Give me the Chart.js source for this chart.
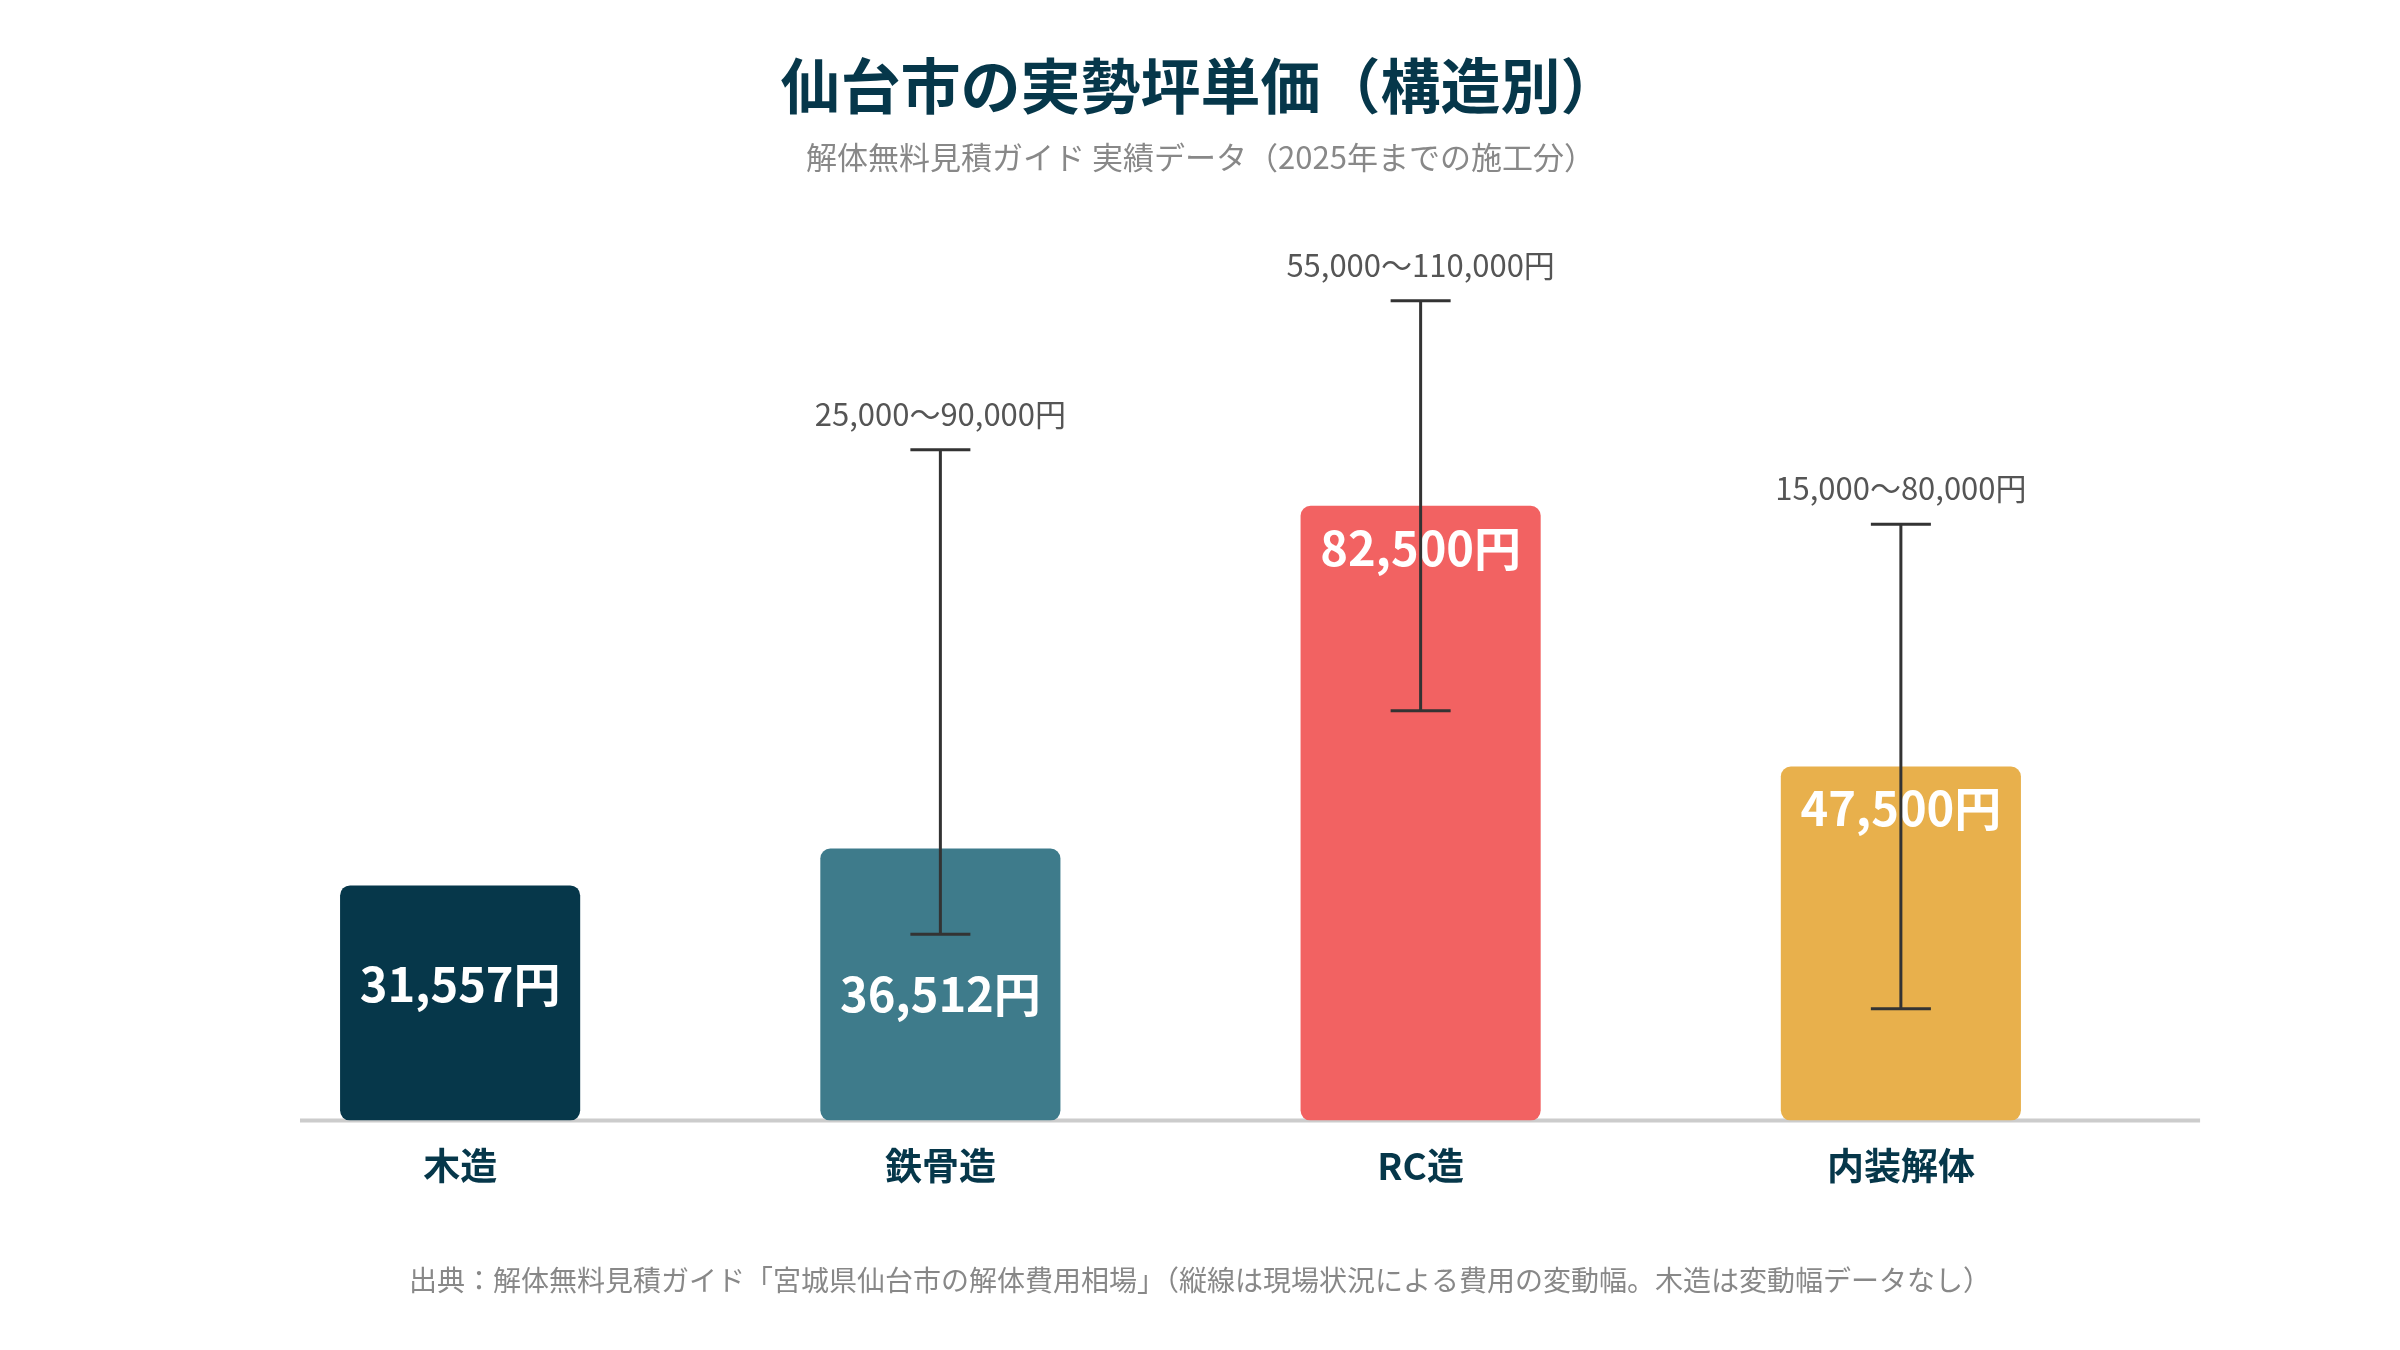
<!DOCTYPE html>
<html lang="ja">
<head>
<meta charset="utf-8">
<title>仙台市の実勢坪単価（構造別）</title>
<script src="https://cdn.jsdelivr.net/npm/chart.js@4.4.1/dist/chart.umd.min.js"></script>
<style>
  html, body { margin: 0; padding: 0; background: #ffffff; }
  #wrap { position: relative; width: 2400px; height: 1350px; }
</style>
</head>
<body>
<div id="wrap"><canvas id="chart"></canvas></div>
<script>
// データ
const categories = ['木造', '鉄骨造', 'RC造', '内装解体'];
const unitPrices = [31557, 36512, 82500, 47500];
const rangeLow = [null, 25000, 55000, 15000];
const rangeHigh = [null, 90000, 110000, 80000];
const barColors = ['#06374a', '#3e7b8b', '#f26262', '#e8b04c'];

const titleText = '仙台市の実勢坪単価（構造別）';
const subtitleText = '解体無料見積ガイド 実績データ（2025年までの施工分）';
const footerText = '出典：解体無料見積ガイド「宮城県仙台市の解体費用相場」（縦線は現場状況による費用の変動幅。木造は変動幅データなし）';

const FONT = '"Noto Sans CJK JP", "Noto Sans", sans-serif';
const yen = v => v.toLocaleString('ja-JP') + '円';

// ベースライン
const baselinePlugin = {
  id: 'baseline',
  beforeDatasetsDraw(chart) {
    const { ctx, width } = chart;
    const y = chart.scales.y.getPixelForValue(0);
    ctx.save();
    ctx.strokeStyle = '#cccccc';
    ctx.lineWidth = 4;
    ctx.beginPath();
    ctx.moveTo(width * 0.125, y);
    ctx.lineTo(width * 0.9167, y);
    ctx.stroke();
    ctx.restore();
  }
};

// 変動幅（縦線）とラベル
const rangePlugin = {
  id: 'ranges',
  afterDatasetsDraw(chart) {
    const { ctx } = chart;
    const yScale = chart.scales.y;
    const meta = chart.getDatasetMeta(0);
    ctx.save();
    meta.data.forEach((bar, i) => {
      const base = bar.base;
      const top = bar.y;
      const hasRange = rangeLow[i] != null;
      const yLo = hasRange ? yScale.getPixelForValue(rangeLow[i]) : null;
      const yHi = hasRange ? yScale.getPixelForValue(rangeHigh[i]) : null;

      // 棒の中の金額
      let labelY = (top + base) / 2 - 19;
      if (base - top > 320) {
        labelY = top + 42;
      } else if (hasRange && yLo > top && yLo < base) {
        labelY = yLo + 60;
      }
      ctx.fillStyle = '#ffffff';
      ctx.font = 'bold 47px ' + FONT;
      ctx.textAlign = 'center';
      ctx.textBaseline = 'middle';
      ctx.fillText(yen(unitPrices[i]), bar.x, labelY);

      if (!hasRange) return;
      ctx.strokeStyle = '#333333';
      ctx.lineWidth = 3;
      ctx.beginPath();
      ctx.moveTo(bar.x, yLo);
      ctx.lineTo(bar.x, yHi);
      ctx.moveTo(bar.x - 30, yHi);
      ctx.lineTo(bar.x + 30, yHi);
      ctx.moveTo(bar.x - 30, yLo);
      ctx.lineTo(bar.x + 30, yLo);
      ctx.stroke();

      ctx.fillStyle = '#555555';
      ctx.font = '31px ' + FONT;
      ctx.fillText(yen(rangeLow[i]).replace('円', '') + '〜' + yen(rangeHigh[i]), bar.x, yHi - 36);
    });
    ctx.restore();
  }
};

// 出典
const footerPlugin = {
  id: 'footer',
  afterDraw(chart) {
    const { ctx, width } = chart;
    ctx.save();
    ctx.fillStyle = '#888888';
    ctx.font = '28px ' + FONT;
    ctx.textAlign = 'center';
    ctx.textBaseline = 'middle';
    ctx.fillText(footerText, width / 2, 1280);
    ctx.restore();
  }
};

new Chart(document.getElementById('chart'), {
  type: 'bar',
  data: {
    labels: categories,
    datasets: [{
      data: unitPrices,
      backgroundColor: barColors,
      borderRadius: 10,
      borderSkipped: false,
      barPercentage: 0.5,
      categoryPercentage: 1.0
    }]
  },
  options: {
    responsive: true,
    maintainAspectRatio: false,
    animation: false,
    layout: { padding: { left: 220, right: 219, top: 0, bottom: 139 } },
    plugins: {
      legend: { display: false },
      tooltip: { enabled: false },
      title: {
        display: true,
        text: titleText,
        color: '#06374a',
        font: { family: FONT, size: 60, weight: 'bold', lineHeight: 1.2 },
        padding: { top: 50, bottom: 0 }
      },
      subtitle: {
        display: true,
        text: subtitleText,
        color: '#888888',
        font: { family: FONT, size: 31, lineHeight: 1.2 },
        padding: { top: 17, bottom: 50 }
      }
    },
    scales: {
      x: {
        grid: { display: false, drawTicks: false },
        border: { display: false },
        ticks: {
          color: '#06374a',
          padding: 23,
          font: { family: FONT, size: 37, weight: 'bold', lineHeight: 1.2 }
        }
      },
      y: {
        position: 'right',
        min: 0,
        max: 120000,
        grid: { display: false, drawTicks: false },
        border: { display: false },
        ticks: { display: false },
        afterFit(axis) { axis.width = 40; }
      }
    }
  },
  plugins: [baselinePlugin, rangePlugin, footerPlugin]
});
</script>
</body>
</html>
